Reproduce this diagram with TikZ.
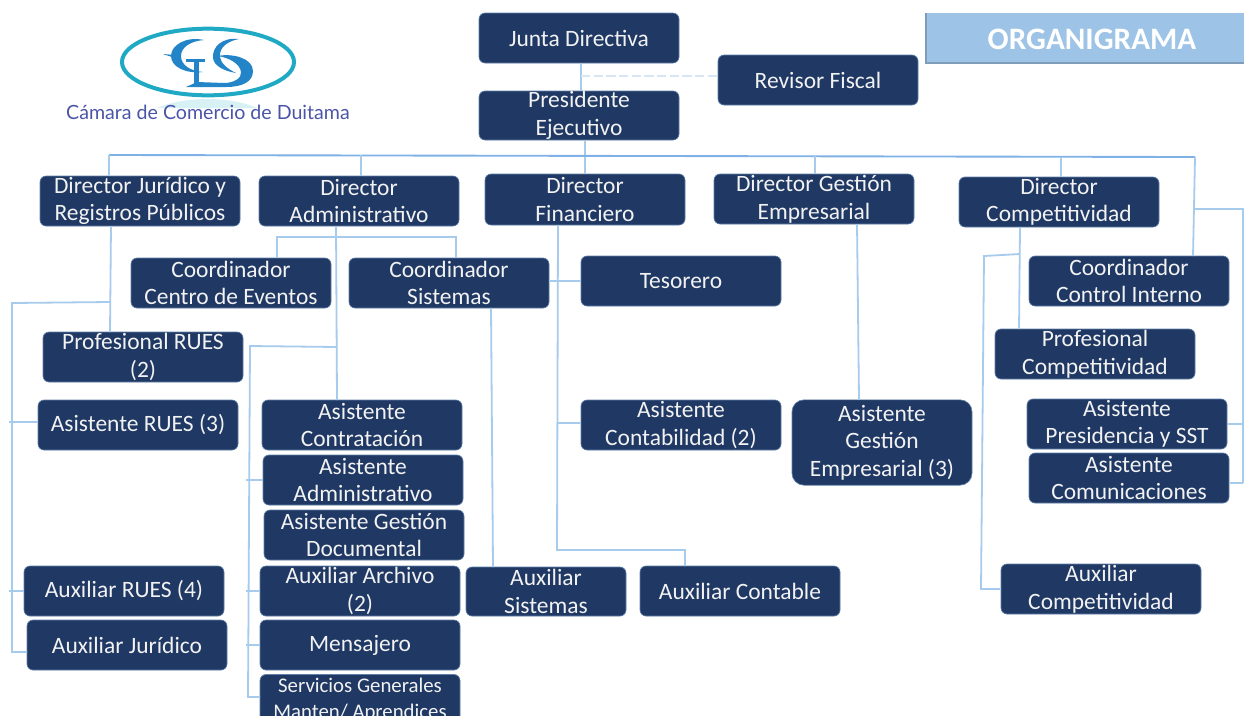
\documentclass[tikz,border=0pt]{standalone}
\usetikzlibrary{shapes.geometric}
\usepackage{fontspec}
\setmainfont{Carlito}
\newfontfamily\logofont{Lato}
\definecolor{navy}{HTML}{1F3864}
\definecolor{navyedge}{HTML}{5F7FA8}
\definecolor{linkblue}{HTML}{A6CBEC}
\definecolor{busblue}{HTML}{7FB0E6}
\definecolor{dashblue}{HTML}{D6E6F5}
\definecolor{bar}{HTML}{9DC3E6}
\definecolor{barline}{HTML}{7F9DB9}
\definecolor{logoteal}{HTML}{1FA9C4}
\definecolor{logoblue}{HTML}{2385C7}
\definecolor{logotext}{HTML}{4A55A8}
\definecolor{swoosh}{HTML}{D8F1F4}
\tikzset{
  x=0.75pt,y=-0.75pt,
  orgbox/.style={draw=navyedge,line width=0.5pt,fill=navy,rounded corners=4.5pt,inner sep=0pt,outer sep=0pt,
    text=white!95!black,align=center,font=\fontsize{17.6}{20.7}\selectfont},
  link/.style={draw=linkblue,line width=1.35pt},
  bus/.style={draw=busblue,line width=1.4pt},
  dashlink/.style={draw=dashblue,line width=2pt,dash pattern=on 7pt off 2.5pt},
}
\newcommand{\orgnode}[6]{%
  \pgfmathsetmacro{\bw}{(#4-#2)*0.75}\pgfmathsetmacro{\bh}{(#5-#3)*0.75}%
  \node[orgbox,minimum width=\bw pt,minimum height=\bh pt] (#1) at ({(#2+#4)/2},{(#3+#5)/2}) {#6};}
\begin{document}
\begin{tikzpicture}
\useasboundingbox (0,0) rectangle (1244,715);
\clip (0,0) rectangle (1244,715);
% logo
\fill[swoosh] (157,108) .. controls (185,96) and (230,96) .. (257,108) -- cycle;
\node[draw=logoteal,line width=3pt,ellipse,minimum width=129pt,minimum height=50pt,inner sep=0pt] (logo) at (208,62) {};
\fill[logoblue] (204,40) .. controls (186,36) and (171,45) .. (171,56) .. controls (171,67) and (186,74) .. (203,72)
  .. controls (190,71) and (181,65) .. (181,56) .. controls (181,47) and (191,41) .. (204,40) -- cycle;
\fill[logoblue] (163,54) -- (175,55) -- (175,58) -- cycle;
\fill[logoblue] (186,59) rectangle (205,62);
\fill[logoblue] (194,60) rectangle (199,84);
\fill[logoblue] (239,39) .. controls (222,37) and (212,47) .. (213,58) .. controls (214,66) and (224,71) .. (236,73)
  .. controls (228,69) and (221,64) .. (220,57) .. controls (219,47) and (228,41) .. (239,39) -- cycle;
\fill[logoblue] (218,56) .. controls (232,53) and (253,58) .. (253,71) .. controls (253,82) and (242,87) .. (226,87)
  -- (186,87) -- (197,82) -- (224,83) .. controls (234,83) and (242,78) .. (241,72) .. controls (240,64) and (230,58) .. (218,56) -- cycle;
\node[text=logotext,font=\logofont\fontsize{14.7}{16}\selectfont,inner sep=0pt] (logotxt) at (208,112) {Cámara de Comercio de Duitama};
% title bar
\node[fill=bar,minimum width=238.5pt,minimum height=37.5pt,inner sep=0pt,outer sep=0pt] (title) at (1085,38) {};
\node[text=white,inner sep=0pt,font=\fontsize{23.4}{26}\selectfont\bfseries] (titletxt) at (1092,39.5) {ORGANIGRAMA};
\draw[barline,line width=1pt] (title.north west) -- (title.south west) -- (title.south east);
% nodes
\orgnode{junta}{479}{13}{679}{63}{Junta Directiva}
\orgnode{revisor}{718}{55}{918}{105}{Revisor Fiscal}
\orgnode{pres}{479}{91}{679}{140}{Presidente\\Ejecutivo}
\orgnode{djur}{40}{176}{240}{226}{Director Jurídico y\\Registros Públicos}
\orgnode{dadm}{259}{176}{459}{226}{Director\\Administrativo}
\orgnode{dfin}{485}{174}{685}{225}{Director\\Financiero}
\orgnode{dges}{714}{174}{914}{224}{Director Gestión\\Empresarial}
\orgnode{dcom}{959}{177}{1159}{227}{Director\\Competitividad}
\orgnode{cce}{131}{258}{331}{308}{Coordinador\\Centro de Eventos}
\orgnode{csis}{349}{258}{549}{308}{Coordinador\\Sistemas}
\orgnode{tes}{581}{256}{781}{306}{Tesorero}
\orgnode{cci}{1029}{256}{1229}{306}{Coordinador\\Control Interno}
\orgnode{pcom}{995}{329}{1195}{379}{Profesional\\Competitividad}
\orgnode{prues}{43}{332}{243}{382}{Profesional RUES\\(2)}
\orgnode{arues}{38}{400}{238}{450}{Asistente RUES (3)}
\orgnode{acontr}{262}{400}{462}{450}{Asistente\\Contratación}
\orgnode{aadm}{263}{455}{463}{505}{Asistente\\Administrativo}
\orgnode{agd}{264}{510}{464}{560}{Asistente Gestión\\Documental}
\orgnode{xarch}{260}{566}{460}{616}{Auxiliar Archivo\\(2)}
\orgnode{mens}{260}{620}{460}{670}{Mensajero}
\node[orgbox,minimum width=150pt,minimum height=37.5pt,font=\fontsize{15.6}{19.5}\selectfont] (serv) at (360,699.5) {Servicios Generales\\Manten/ Aprendices};
\orgnode{acont}{581}{400}{781}{450}{Asistente\\Contabilidad (2)}
\node[orgbox,rounded corners=9pt,minimum width=135pt,minimum height=64pt] (ages) at (882,442.5) {Asistente\\Gestión\\Empresarial (3)};
\orgnode{apres}{1027}{399}{1227}{449}{Asistente\\Presidencia y SST}
\orgnode{acomu}{1029}{453}{1229}{503}{Asistente\\Comunicaciones}
\orgnode{xcomp}{1001}{564}{1201}{614}{Auxiliar\\Competitividad}
\orgnode{xrues}{24}{566}{224}{616}{Auxiliar RUES (4)}
\orgnode{xjur}{27}{620}{227}{670}{Auxiliar Jurídico}
\orgnode{xsis}{466}{567}{626}{616}{Auxiliar\\Sistemas}
\orgnode{xcont}{640}{566}{840}{616}{Auxiliar Contable}
% connectors
\draw[link] (581,0 |- junta.south) -- (581,0 |- pres.north);
\draw[dashlink] (581,76) -- (581,76 -| revisor.west);
\draw[link] (585,0 |- pres.south) -- (585,0 |- dfin.north);
\draw[bus] (109,155) -- (1195,157);
\draw[link] (109,155) -- (109,0 |- djur.north);
\draw[link] (361,155) -- (361,0 |- dadm.north);
\draw[link] (815,156) -- (815,0 |- dges.north);
\draw[link] (1061,157) -- (1061,0 |- dcom.north);
\draw[link] (1195,157) -- (1193,0 |- cci.north);
\draw[link] (1195,209) -- (1243,209) -- (1243,483);
\draw[link] (apres.east |- 0,424) -- (1243,424);
\draw[link] (acomu.east |- 0,483) -- (1243,483);
% juridico
\draw[link] (111,0 |- djur.south) -- (110,0 |- prues.north);
\draw[link] (110,302) -- (12,303) -- (12,652) -- (12,652 -| xjur.west);
\draw[link] (9,422) -- (9,422 -| arues.west);
\draw[link] (9,591) -- (9,591 -| xrues.west);
% administrativo
\draw[link] (336,0 |- dadm.south) -- (337,0 |- acontr.north);
\draw[link] (277,0 |- cce.north) -- (277,237) -- (456,237) -- (456,0 |- csis.north);
\draw[link] (337,347) -- (250,346) -- (248,697) -- (248,697 -| serv.west);
\draw[link] (246,480) -- (246,480 -| aadm.west);
\draw[link] (246,591) -- (246,591 -| xarch.west);
\draw[link] (246,645) -- (246,645 -| mens.west);
% financiero
\draw[link] (558,0 |- dfin.south) -- (557,550) -- (685,550) -- (685,0 |- xcont.north);
\draw[link] (csis.east |- 0,281) -- (557,281);
\draw[link] (557,281) -- (557,281 -| tes.west);
\draw[link] (557,423) -- (557,423 -| acont.west);
\draw[link] (491,0 |- csis.south) -- (493,0 |- xsis.north);
% gestion
\draw[link] (857,0 |- dges.south) -- (859,0 |- ages.north);
% competitividad
\draw[link] (1020,0 |- dcom.south) -- (1019,0 |- pcom.north);
\draw[link] (1020,254) -- (984,256) -- (981,589) -- (981,589 -| xcomp.west);
\end{tikzpicture}
\end{document}
